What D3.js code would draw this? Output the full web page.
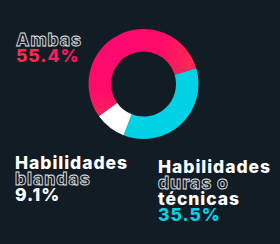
<!DOCTYPE html>
<html>
<head>
<meta charset="utf-8">
<script src="https://cdn.jsdelivr.net/npm/d3@7"></script>
<style>
  html, body { margin: 0; padding: 0; background: #111c25; }
  svg { display: block; }
  text { font-family: Inter, "Open Sans", sans-serif; font-weight: 800; }
</style>
</head>
<body>
<div id="chart"></div>
<script>
// data
const categories = ["Ambas", "Habilidades duras o técnicas", "Habilidades blandas"];
const values = [55.4, 35.5, 9.1];
// label lines for each category
const labelLines = [
  ["Ambas"],
  ["Habilidades", "duras o", "técnicas"],
  ["Habilidades", "blandas"]
];

const width = 280, height = 244;
const cx = 143.5, cy = 84;
const outerR = 55, innerR = 32.5;

const svg = d3.select("#chart").append("svg")
  .attr("width", width)
  .attr("height", height);

svg.append("rect").attr("width", width).attr("height", height).attr("fill", "#111c25");

const defs = svg.append("defs");
// pink arc gradient, coords relative to donut centre
const pinkGrad = defs.append("radialGradient")
  .attr("id", "pinkGrad")
  .attr("gradientUnits", "userSpaceOnUse")
  .attr("cx", 110 - cx).attr("cy", 40 - cy).attr("r", 105);
pinkGrad.append("stop").attr("offset", "0").attr("stop-color", "#ff0872");
pinkGrad.append("stop").attr("offset", "0.5").attr("stop-color", "#ff0c69");
pinkGrad.append("stop").attr("offset", "1").attr("stop-color", "#fb3a46");

const textGrad = defs.append("linearGradient")
  .attr("id", "textGrad")
  .attr("x1", 0).attr("x2", 1).attr("y1", 0).attr("y2", 0);
textGrad.append("stop").attr("offset", "0").attr("stop-color", "#fb3546");
textGrad.append("stop").attr("offset", "1").attr("stop-color", "#ff0a70");

const color = d3.scaleOrdinal()
  .domain(categories)
  .range(["url(#pinkGrad)", "#00d2e6", "#ffffff"]);

const start = 234 * Math.PI / 180;
const pie = d3.pie().sort(null).value(d => d.v)
  .startAngle(start).endAngle(start + 2 * Math.PI);
const arc = d3.arc().innerRadius(innerR).outerRadius(outerR);

const data = categories.map((c, i) => ({ c: c, v: values[i] }));

svg.append("g")
  .attr("transform", "translate(" + cx + "," + cy + ")")
  .selectAll("path")
  .data(pie(data))
  .join("path")
  .attr("d", arc)
  .attr("fill", d => color(d.data.c));

// labels, one text block per category
const fmt = d => d3.format(".1f")(d) + "%";
const fontSize = 17.5;
const labelPos = [
  { x: 16, y: 46, pctFill: "url(#textGrad)", outline: [0] },
  { x: 158, y: 172.5, pctFill: "#00d2e6", outline: [1] },
  { x: 15, y: 168.5, pctFill: "#ffffff", outline: [1] }
];
const lineH = 16.2;

// widen letters so "Habilidades" spans about 112px like the reference
const probe = svg.append("text").attr("font-size", fontSize).text("Habilidades");
const ls = Math.max(0, (112 - probe.node().getComputedTextLength()) / 10);
probe.remove();

categories.forEach((c, i) => {
  const p = labelPos[i];
  const txt = svg.append("text")
    .attr("x", p.x).attr("y", p.y)
    .attr("font-size", fontSize)
    .attr("letter-spacing", ls);
  const lines = labelLines[i];
  lines.forEach((t, j) => {
    const outlined = p.outline.indexOf(j) >= 0;
    txt.append("tspan")
      .attr("x", p.x)
      .attr("y", p.y + j * lineH)
      .attr("fill", outlined ? "#111c25" : "#ffffff")
      .attr("stroke", outlined ? "#e6e6e6" : "none")
      .attr("stroke-width", outlined ? 0.8 : 0)
      .text(t);
  });
  txt.append("tspan")
    .attr("x", p.x)
    .attr("y", p.y + lines.length * lineH)
    .attr("fill", p.pctFill)
    .text(fmt(values[i]));
});
</script>
</body>
</html>
